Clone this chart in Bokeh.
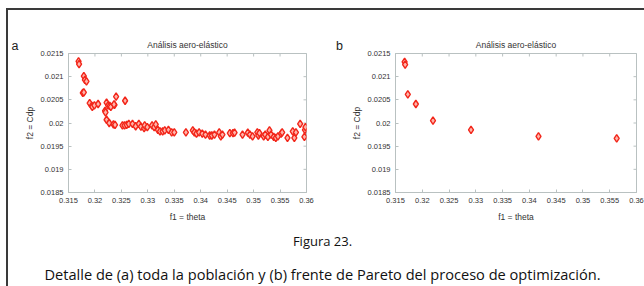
import math
from bokeh.plotting import figure
from bokeh.layouts import column, row
from bokeh.models import FixedTicker, Label, Range1d, Spacer
from bokeh.embed import file_html
from bokeh.resources import INLINE

# ---------------- data ----------------
theta_all = [0.3169, 0.3170, 0.3177, 0.3179, 0.3179, 0.3181, 0.3184, 0.3190, 0.3194, 0.3195,
             0.3199, 0.3206, 0.3219, 0.3222, 0.3220, 0.3222, 0.3225, 0.3227, 0.3228, 0.3230,
             0.3235, 0.3237, 0.3236, 0.3238, 0.3240, 0.3257, 0.3252, 0.3256, 0.3260, 0.3264,
             0.3271, 0.3277, 0.3283, 0.3287, 0.3293, 0.3294, 0.3299, 0.3308, 0.3312, 0.3315,
             0.3319, 0.3323, 0.3328, 0.3332, 0.3339, 0.3345, 0.3350, 0.3372, 0.3385, 0.3388,
             0.3392, 0.3397, 0.3403, 0.3409, 0.3417, 0.3421, 0.3426, 0.3435, 0.3438, 0.3441,
             0.3455, 0.3461, 0.3464, 0.3479, 0.3489, 0.3493, 0.3498, 0.3507, 0.3509, 0.3511,
             0.3519, 0.3522, 0.3527, 0.3530, 0.3533, 0.3538, 0.3542, 0.3546, 0.3552, 0.3554,
             0.3564, 0.3574, 0.3577, 0.3580, 0.3588, 0.3596, 0.3597, 0.3598]
cdp_all = [0.02133, 0.02127, 0.02065, 0.02066, 0.02101, 0.02093, 0.02090, 0.02043, 0.02037, 0.02035,
           0.02038, 0.02041, 0.02026, 0.02044, 0.02023, 0.02007, 0.02038, 0.02000, 0.02037, 0.02035,
           0.01997, 0.02039, 0.02040, 0.01996, 0.02057, 0.02048, 0.01995, 0.01995, 0.01996, 0.01998,
           0.01998, 0.01993, 0.01998, 0.01992, 0.01989, 0.01995, 0.01991, 0.01995, 0.01991, 0.01997,
           0.01985, 0.01982, 0.01982, 0.01984, 0.01985, 0.01980, 0.01980, 0.01980, 0.01984, 0.01980,
           0.01977, 0.01980, 0.01977, 0.01975, 0.01973, 0.01973, 0.01975, 0.01980, 0.01971, 0.01975,
           0.01978, 0.01978, 0.01979, 0.01975, 0.01979, 0.01975, 0.01971, 0.01980, 0.01973, 0.01978,
           0.01971, 0.01975, 0.01970, 0.01984, 0.01975, 0.01970, 0.01968, 0.01971, 0.01977, 0.01980,
           0.01968, 0.01982, 0.01968, 0.01980, 0.01998, 0.01970, 0.01985, 0.01991]

theta_pareto = [0.3167, 0.3168, 0.3173, 0.3188, 0.3220, 0.3291, 0.3417, 0.3563]
cdp_pareto = [0.02132, 0.02126, 0.02062, 0.02041, 0.02005, 0.01985, 0.01971, 0.01967]

x_ticks = [0.315, 0.32, 0.325, 0.33, 0.335, 0.34, 0.345, 0.35, 0.355, 0.36]
x_tick_labels = ["0.315", "0.32", "0.325", "0.33", "0.335", "0.34", "0.345", "0.35", "0.355", "0.36"]
y_ticks = [0.0185, 0.019, 0.0195, 0.02, 0.0205, 0.021, 0.0215]
y_tick_labels = ["0.0185", "0.019", "0.0195", "0.02", "0.0205", "0.021", "0.0215"]

panel_title = "Análisis aero-elástico"
x_label = "f1 = theta"
y_label = "f2 = Cdp"
panel_letters = ["a", "b"]
caption_title = "Figura 23."
caption_text = "Detalle de (a) toda la población y (b) frente de Pareto del proceso de optimización."

# ---------------- style ----------------
FONT = "Liberation Sans"
CAP_FONT = "Open Sans"
AXIS_GREY = "#b9c1c1"
TEXT = "#333333"
RED = "#f2261a"
PINK = "#ffb4aa"
FRAME = "#3a3a3a"
PANEL_H = 216


def style_axis(ax, labels):
    ax.axis_line_color = AXIS_GREY
    ax.major_tick_line_color = AXIS_GREY
    ax.minor_tick_line_color = None
    ax.major_tick_in = 3
    ax.major_tick_out = 0
    ax.major_label_overrides = labels
    ax.major_label_text_font = FONT
    ax.major_label_text_font_size = "7.5px"
    ax.major_label_text_color = TEXT
    ax.major_label_standoff = 5
    ax.axis_label_text_font = FONT
    ax.axis_label_text_font_size = "8.5px"
    ax.axis_label_text_font_style = "normal"
    ax.axis_label_text_color = TEXT


def make_panel(xs, ys, width, border_left, border_right):
    p = figure(width=width, height=PANEL_H, output_backend="svg", toolbar_location=None,
               x_range=Range1d(x_ticks[0], x_ticks[-1]),
               y_range=Range1d(y_ticks[0], y_ticks[-1]),
               min_border_left=border_left, min_border_right=border_right,
               min_border_top=43, min_border_bottom=34,
               x_axis_label=x_label, y_axis_label=y_label)
    p.grid.visible = False
    p.outline_line_color = AXIS_GREY
    p.border_fill_color = "white"

    p.title.text = panel_title
    p.title.align = "center"
    p.title.text_font = FONT
    p.title.text_font_size = "8.5px"
    p.title.text_font_style = "normal"
    p.title.text_color = TEXT
    p.title.standoff = 7

    p.xaxis.ticker = FixedTicker(ticks=x_ticks)
    p.yaxis.ticker = FixedTicker(ticks=y_ticks)
    style_axis(p.xaxis[0], {t: s for t, s in zip(x_ticks, x_tick_labels)})
    style_axis(p.yaxis[0], {t: s for t, s in zip(y_ticks, y_tick_labels)})
    p.xaxis[0].axis_label_standoff = 6
    p.yaxis[0].axis_label_standoff = 3

    # mirrored inward ticks on top and right edges (outer halves are clipped by the frame)
    p.scatter(x_ticks, [y_ticks[-1]] * len(x_ticks), marker="dash", angle=math.pi / 2,
              size=6, line_color=AXIS_GREY, line_width=1)
    p.scatter([x_ticks[-1]] * len(y_ticks), y_ticks, marker="dash",
              size=6, line_color=AXIS_GREY, line_width=1)

    p.scatter(xs, ys, marker="diamond", size=7.5, line_color=RED, line_width=1.4,
              fill_color=PINK)
    return p


def blank_box(width, height):
    f = figure(width=width, height=height, output_backend="svg", toolbar_location=None,
               x_range=Range1d(0, width), y_range=Range1d(height, 0), min_border=0)
    f.axis.visible = False
    f.grid.visible = False
    f.outline_line_color = None
    return f


def letter_box(width, letter, offset):
    f = blank_box(width, PANEL_H)
    f.title.text = letter
    f.title.align = "center"
    f.title.offset = offset
    f.title.text_font = FONT
    f.title.text_font_size = "12.5px"
    f.title.text_font_style = "normal"
    f.title.text_color = "#222222"
    f.title.standoff = 1
    return f


letter_a = letter_box(13, panel_letters[0], 3)
fa = make_panel(theta_all, cdp_all, 309, 40, 24)
letter_b = letter_box(18, panel_letters[1], 2.5)
fb = make_panel(theta_pareto, cdp_pareto, 296, 44, 8)

cap = blank_box(636, 60)
cap.add_layout(Label(x=314, y=14, text=caption_title, text_font=CAP_FONT,
                     text_font_size="13px", text_color="#111111",
                     text_align="center", text_baseline="middle"))
cap.add_layout(Label(x=314, y=47, text=caption_text, text_font=CAP_FONT,
                     text_font_size="14.6px", text_color="#111111",
                     text_align="center", text_baseline="middle"))

content = column(row(letter_a, fa, letter_b, fb), cap)

bg = {"background-color": FRAME}
layout = column(
    Spacer(width=644, height=8),
    row(Spacer(width=6, height=2), Spacer(width=638, height=2, styles=bg)),
    row(Spacer(width=6, height=276), Spacer(width=2, height=276, styles=bg), content),
)

open("out.html", "w").write(file_html(layout, INLINE))
